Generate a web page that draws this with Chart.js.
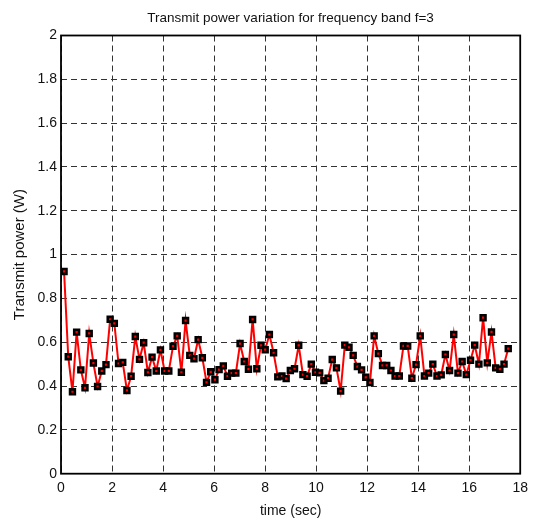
<!DOCTYPE html>
<html>
<head>
<meta charset="utf-8">
<script src="https://cdn.jsdelivr.net/npm/chart.js@4.4.1/dist/chart.umd.min.js"></script>
<style>
  html, body { margin: 0; padding: 0; background: #fff; }
  #wrap { width: 534px; height: 520px; }
</style>
</head>
<body>
<div id="wrap"><canvas id="c" width="534" height="520"></canvas></div>
<script>
const chartTitle = 'Transmit power variation for frequency band f=3';
const xAxisTitle = 'time (sec)';
const yAxisTitle = 'Transmit power (W)';
const xTicks = [0, 2, 4, 6, 8, 10, 12, 14, 16, 18];
const yTicks = [0, 0.2, 0.4, 0.6, 0.8, 1, 1.2, 1.4, 1.6, 1.8, 2];

const times = [
  0.120, 0.284, 0.449, 0.613, 0.777, 0.941, 1.106, 1.270, 1.434, 1.598,
  1.763, 1.927, 2.091, 2.255, 2.420, 2.584, 2.748, 2.912, 3.077, 3.241,
  3.405, 3.569, 3.734, 3.898, 4.062, 4.226, 4.391, 4.555, 4.719, 4.883,
  5.048, 5.212, 5.376, 5.540, 5.705, 5.869, 6.033, 6.197, 6.362, 6.526,
  6.690, 6.854, 7.019, 7.183, 7.347, 7.511, 7.676, 7.840, 8.004, 8.168,
  8.333, 8.497, 8.661, 8.825, 8.990, 9.154, 9.318, 9.482, 9.647, 9.811,
  9.975, 10.139, 10.304, 10.468, 10.632, 10.796, 10.961, 11.125, 11.289, 11.453,
  11.618, 11.782, 11.946, 12.110, 12.275, 12.439, 12.603, 12.767, 12.932, 13.096,
  13.260, 13.424, 13.589, 13.753, 13.917, 14.081, 14.246, 14.410, 14.574, 14.738,
  14.903, 15.067, 15.231, 15.395, 15.560, 15.724, 15.888, 16.052, 16.217, 16.381,
  16.545, 16.709, 16.874, 17.038, 17.202, 17.366, 17.531
];

const power = [
  0.923, 0.534, 0.374, 0.646, 0.474, 0.392, 0.640, 0.505, 0.398, 0.469,
  0.498, 0.705, 0.686, 0.503, 0.508, 0.380, 0.445, 0.626, 0.522, 0.598,
  0.462, 0.532, 0.469, 0.565, 0.469, 0.469, 0.582, 0.629, 0.463, 0.699,
  0.540, 0.525, 0.612, 0.529, 0.417, 0.465, 0.429, 0.475, 0.492, 0.445,
  0.459, 0.459, 0.594, 0.512, 0.477, 0.704, 0.479, 0.586, 0.566, 0.635,
  0.552, 0.442, 0.446, 0.434, 0.471, 0.479, 0.586, 0.452, 0.445, 0.500,
  0.463, 0.460, 0.425, 0.436, 0.521, 0.483, 0.377, 0.587, 0.577, 0.540,
  0.489, 0.474, 0.440, 0.416, 0.629, 0.548, 0.494, 0.494, 0.471, 0.446,
  0.446, 0.583, 0.583, 0.436, 0.498, 0.629, 0.446, 0.459, 0.500, 0.446,
  0.451, 0.544, 0.471, 0.635, 0.459, 0.512, 0.452, 0.518, 0.587, 0.500,
  0.712, 0.506, 0.647, 0.483, 0.477, 0.500, 0.571
];

const FONT = "'Liberation Sans', Arial, Helvetica, sans-serif";

const points = times.map((t, i) => ({ x: t, y: power[i] }));

const framePlugin = {
  id: 'frame',
  beforeDatasetsDraw(chart) {
    const { ctx, chartArea: a } = chart;
    ctx.save();
    ctx.strokeStyle = '#000';
    ctx.lineWidth = 1.8;
    ctx.strokeRect(a.left, a.top, a.right - a.left, a.bottom - a.top);
    ctx.restore();
  },
  afterDraw(chart) {
    const { ctx, chartArea: a } = chart;
    ctx.save();
    ctx.fillStyle = '#111';
    ctx.font = '13.5px ' + FONT;
    ctx.textAlign = 'center';
    ctx.textBaseline = 'middle';
    ctx.fillText(chartTitle, (a.left + a.right) / 2, 18);
    ctx.restore();
  }
};

new Chart(document.getElementById('c'), {
  type: 'line',
  data: {
    datasets: [{
      data: points,
      borderColor: '#ff0000',
      borderWidth: 2,
      tension: 0,
      pointStyle: 'rect',
      pointRadius: 3.4,
      pointBorderWidth: 2.6,
      pointBorderColor: '#000',
      pointBackgroundColor: '#ff0000',
      pointHoverRadius: 3.4
    }]
  },
  options: {
    responsive: false,
    animation: false,
    events: [],
    layout: { padding: { top: 35.5, right: 13, left: 0, bottom: 0 } },
    plugins: {
      legend: { display: false },
      title: { display: false },
      tooltip: { enabled: false }
    },
    scales: {
      x: {
        type: 'linear',
        min: 0, max: 18,
        afterBuildTicks(scale) { scale.ticks = xTicks.map(v => ({ value: v })); },
        afterFit(scale) { scale.height = 46.3; },
        ticks: {
          color: '#111',
          padding: 6,
          font: { family: FONT, size: 14 },
          maxRotation: 0,
          callback: v => String(v)
        },
        grid: { color: '#333', lineWidth: 1, drawTicks: false },
        border: { display: false, dash: [6, 4] },
        title: {
          display: true, text: xAxisTitle, color: '#111',
          font: { family: FONT, size: 14 },
          padding: { top: 0, bottom: 0 }
        }
      },
      y: {
        type: 'linear',
        min: 0, max: 2,
        afterBuildTicks(scale) { scale.ticks = yTicks.map(v => ({ value: v })); },
        afterFit(scale) { scale.width = 61; },
        ticks: {
          color: '#111',
          padding: 4,
          font: { family: FONT, size: 14 },
          callback: v => String(v)
        },
        grid: { color: '#333', lineWidth: 1, drawTicks: false },
        border: { display: false, dash: [6, 4] },
        title: {
          display: true, text: yAxisTitle, color: '#111',
          font: { family: FONT, size: 15 },
          padding: { top: 11, bottom: 0 }
        }
      }
    }
  },
  plugins: [framePlugin]
});
</script>
</body>
</html>
